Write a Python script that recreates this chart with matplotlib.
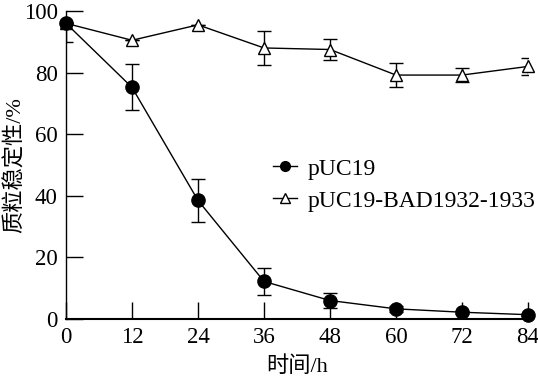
import matplotlib
matplotlib.use("Agg")
import matplotlib.pyplot as plt
from matplotlib.lines import Line2D

hours = [0, 12, 24, 36, 48, 60, 72, 84]
puc19 = [96, 75.2, 38.5, 12.2, 6.0, 3.3, 2.2, 1.4]
puc19_err_low = [6.0, 7.5, 7.0, 4.5, 2.5, 1.0, 0.5, 0.3]
puc19_err_high = [0.0, 7.5, 7.0, 4.5, 2.5, 1.0, 0.5, 0.3]
bad = [96, 90.5, 95.5, 88.0, 87.5, 79.2, 79.2, 82.0]
bad_err = [0, 0, 0, 5.5, 3.4, 3.8, 2.3, 2.7]
labels = ['pUC19', 'pUC19-BAD1932-1933']

serif = ['Liberation Serif', 'Noto Sans CJK SC']
plt.rcParams['font.family'] = serif

fig = plt.figure(figsize=(5.38, 3.83), dpi=100)
ax = fig.add_axes([66 / 538, 64 / 383, 462 / 538, 308 / 383])

e2 = ax.errorbar(hours, bad, yerr=bad_err, color='black', marker='^', markersize=9,
                 markerfacecolor='white', markeredgewidth=1.0, linewidth=1.0, elinewidth=1.0,
                 capsize=5, capthick=1.0, zorder=3)
e1 = ax.errorbar(hours, puc19, yerr=[puc19_err_low, puc19_err_high], color='black', marker='o',
                 markersize=9.5, markerfacecolor='black', linewidth=1.0, elinewidth=1.0,
                 capsize=5, capthick=1.0, zorder=4)
for cont in (e1, e2):
    cont[0].set_clip_on(False)

ax.set_xlim(0, 84)
ax.set_ylim(0, 100)
ax.set_xticks(hours)
ax.set_yticks([0, 20, 40, 60, 80, 100])
ax.spines['top'].set_visible(False)
ax.spines['right'].set_visible(False)
ax.spines['left'].set_linewidth(1.0)
ax.spines['bottom'].set_linewidth(1.5)
ax.tick_params(direction='in', length=12, width=1.0, labelsize=16.5, pad=6)

ax.set_xlabel('时间/h', fontsize=16, labelpad=6)
ax.set_ylabel('质粒稳定性/%', fontsize=16)
ax.yaxis.set_label_coords(-0.088, 0.5)

handles = [Line2D([], [], color='black', marker='o', markersize=7, linewidth=1.0),
           Line2D([], [], color='black', marker='^', markersize=7, markerfacecolor='white',
                  linewidth=1.0)]
fig.legend(handles, labels, loc='upper left', bbox_to_anchor=(273 / 538, 1 - 158 / 383),
           frameon=False, fontsize=17, handlelength=1.0, handletextpad=0.45,
           labelspacing=0.45, borderpad=0, borderaxespad=0)

fig.savefig('out.png', dpi=100)
